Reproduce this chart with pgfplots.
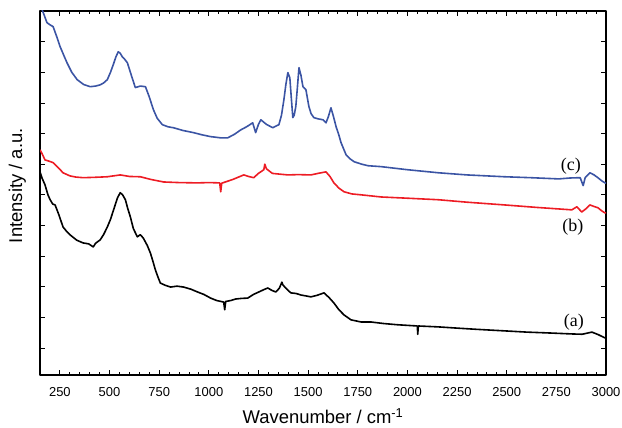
\documentclass[border=0pt]{standalone}
\usepackage{pgfplots}
\pgfplotsset{compat=1.18}
\usepackage{fontspec}
\setmainfont{Liberation Sans}
\newfontfamily\timesfont{Liberation Serif}
\definecolor{cblue}{RGB}{59,84,164}
\definecolor{cred}{RGB}{237,28,36}
\begin{document}
\begin{tikzpicture}
\useasboundingbox (-40bp,-53bp) rectangle (582bp,375bp);
\begin{axis}[
  scale only axis, width=566bp, height=364bp,
  xmin=150, xmax=3000, ymin=-0.88, ymax=11,
  xtick={250,500,...,3000}, minor x tick num=4,
  ytick={0,...,11}, yticklabels={},
  tick align=inside, major tick length=5bp, minor tick length=3bp,
  axis line style={line width=1.1bp}, every tick/.style={line width=0.8bp, black},
  xticklabel style={font=\fontsize{13}{13}\selectfont, yshift=-9bp},
  /pgf/number format/assume math mode=true,
  /pgf/number format/set thousands separator={},
  xlabel={Wavenumber / cm\textsuperscript{-1}},
  ylabel={Intensity / a.u.},
  xlabel style={font=\fontsize{18.5}{18.5}\selectfont, at={(axis description cs:0.5,-0.113)}, anchor=center},
  ylabel style={font=\fontsize{18.5}{18.5}\selectfont, at={(axis description cs:-0.04,0.52)}, anchor=center},
  clip=true,
  line join=round,
]
% (a) black
\addplot[black, line width=1.6bp] coordinates {
(150,5.75)(160,5.55)(175,5.33)(190,5.00)(201,4.84)(214,4.70)(226,4.67)(245,4.35)(266,3.95)(285,3.80)(302,3.69)(335,3.52)(367,3.43)(395,3.40)(418,3.30)(430,3.42)(453,3.53)(470,3.70)(489,3.95)(505,4.20)(524,4.58)(540,4.90)(554,5.07)(566,5.00)(580,4.84)(592,4.55)(605,4.28)(620,3.90)(640,3.63)(655,3.70)(670,3.59)(690,3.35)(706,3.10)(720,2.80)(731,2.55)(745,2.30)(756,2.12)(780,2.05)(807,1.99)(840,2.02)(873,1.99)(910,1.92)(943,1.83)(975,1.75)(1009,1.63)(1040,1.55)(1075,1.50)(1080,1.25)(1085,1.52)(1110,1.55)(1135,1.60)(1165,1.62)(1196,1.63)(1225,1.75)(1252,1.83)(1275,1.90)(1297,1.96)(1318,1.88)(1337,1.83)(1355,1.95)(1368,2.15)(1373,2.06)(1393,1.92)(1413,1.80)(1440,1.78)(1464,1.73)(1490,1.70)(1514,1.67)(1545,1.72)(1580,1.80)(1605,1.65)(1630,1.47)(1655,1.25)(1681,1.08)(1716,0.92)(1767,0.85)(1817,0.85)(1880,0.80)(1950,0.76)(2050,0.72)(2052,0.45)(2055,0.72)(2156,0.69)(2250,0.65)(2350,0.61)(2490,0.56)(2600,0.52)(2720,0.49)(2828,0.46)(2880,0.45)(2929,0.52)(2960,0.44)(2995,0.33)(3000,0.33)
};
% (b) red
\addplot[cred, line width=1.6bp] coordinates {
(150,6.47)(160,6.35)(175,6.14)(195,6.10)(216,6.05)(240,5.90)(266,5.72)(300,5.62)(330,5.58)(367,5.56)(420,5.57)(489,5.59)(554,5.65)(600,5.60)(655,5.59)(710,5.50)(772,5.42)(850,5.40)(943,5.39)(1000,5.40)(1055,5.39)(1060,5.10)(1065,5.38)(1120,5.50)(1176,5.65)(1200,5.60)(1226,5.56)(1250,5.70)(1277,5.82)(1282,6.00)(1290,5.85)(1320,5.70)(1350,5.68)(1398,5.65)(1450,5.66)(1514,5.65)(1550,5.70)(1590,5.75)(1610,5.60)(1630,5.39)(1655,5.22)(1681,5.10)(1720,5.03)(1767,5.00)(1868,4.93)(2000,4.89)(2156,4.84)(2300,4.76)(2490,4.67)(2650,4.59)(2828,4.51)(2853,4.61)(2878,4.44)(2900,4.55)(2919,4.67)(2940,4.62)(2959,4.58)(2980,4.47)(2995,4.41)(3000,4.41)
};
% (c) blue
\addplot[cblue, line width=1.6bp] coordinates {
(150,11.1)(160,11.05)(172,10.85)(185,10.62)(200,10.55)(216,10.49)(235,10.15)(251,9.84)(270,9.55)(286,9.31)(310,9.00)(337,8.76)(370,8.60)(403,8.53)(430,8.55)(453,8.59)(470,8.65)(489,8.76)(505,9.00)(519,9.25)(532,9.50)(544,9.67)(554,9.62)(564,9.51)(577,9.42)(590,9.31)(610,8.90)(630,8.50)(655,8.55)(681,8.53)(700,8.20)(721,7.78)(740,7.50)(766,7.29)(795,7.22)(822,7.19)(870,7.10)(923,7.03)(965,6.96)(1009,6.90)(1035,6.88)(1060,6.86)(1095,6.86)(1130,6.98)(1161,7.12)(1190,7.22)(1221,7.35)(1236,7.03)(1250,7.30)(1262,7.45)(1290,7.30)(1322,7.19)(1340,7.25)(1353,7.29)(1366,7.60)(1378,8.10)(1388,8.60)(1398,8.99)(1408,8.82)(1415,8.20)(1423,7.52)(1430,7.60)(1438,7.88)(1446,8.50)(1454,9.15)(1464,8.90)(1474,8.53)(1489,8.43)(1504,7.88)(1515,7.65)(1529,7.52)(1550,7.48)(1575,7.45)(1590,7.35)(1602,7.55)(1615,7.84)(1628,7.55)(1641,7.22)(1655,6.95)(1666,6.70)(1691,6.31)(1710,6.18)(1732,6.08)(1770,6.00)(1802,5.95)(1868,5.92)(2000,5.82)(2156,5.72)(2300,5.65)(2490,5.59)(2620,5.56)(2762,5.52)(2820,5.55)(2870,5.56)(2885,5.30)(2895,5.56)(2919,5.72)(2940,5.65)(2959,5.56)(2980,5.45)(2995,5.39)(3000,5.38)
};
\node[font=\timesfont\fontsize{18}{18}\selectfont] at (axis cs:2838,0.85) {(a)};
\node[font=\timesfont\fontsize{18}{18}\selectfont] at (axis cs:2833,3.95) {(b)};
\node[font=\timesfont\fontsize{18}{18}\selectfont] at (axis cs:2823,5.92) {(c)};
\end{axis}
\end{tikzpicture}
\end{document}
